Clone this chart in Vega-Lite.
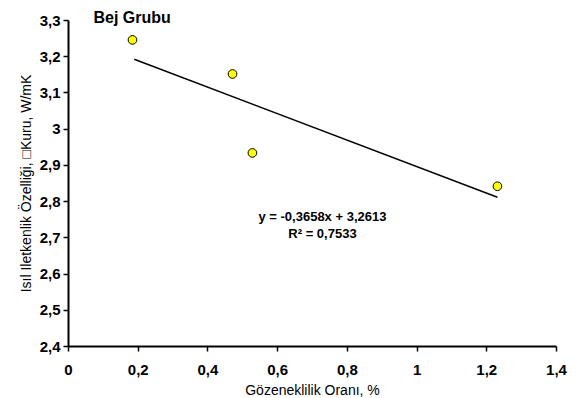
{
  "$schema": "https://vega.github.io/schema/vega-lite/v6.json",
  "width": 488,
  "height": 326,
  "autosize": {"type": "none"},
  "padding": {"left": 68, "top": 20, "right": 29, "bottom": 52},
  "background": "white",
  "config": {
    "view": {"stroke": null},
    "font": "Liberation Sans",
    "axis": {
      "grid": false,
      "domainColor": "black",
      "domainWidth": 2,
      "tickColor": "black",
      "tickWidth": 1.5,
      "tickSize": 5,
      "labelFont": "Liberation Sans",
      "labelFontWeight": "bold",
      "labelFontSize": 15,
      "labelColor": "black",
      "titleFont": "Liberation Sans",
      "titleFontWeight": "normal",
      "titleFontSize": 14,
      "titleColor": "black"
    }
  },
  "datasets": {
    "pts": [
      {"x": 0.185, "y": 3.245},
      {"x": 0.472, "y": 3.151},
      {"x": 0.529, "y": 2.933},
      {"x": 1.232, "y": 2.841}
    ],
    "trend": [
      {"x": 0.19, "y": 3.1918},
      {"x": 1.232, "y": 2.8106}
    ],
    "notes": [
      {"x": 0.73, "y": 2.755, "t": "y = -0,3658x + 3,2613"},
      {"x": 0.73, "y": 2.709, "t": "R² = 0,7533"}
    ],
    "ttl": [
      {"x": 0.073, "y": 3.306, "t": "Bej Grubu"}
    ]
  },
  "encoding": {
    "x": {
      "field": "x", "type": "quantitative",
      "scale": {"domain": [0, 1.4], "nice": false},
      "axis": {
        "values": [0, 0.2, 0.4, 0.6, 0.8, 1, 1.2, 1.4],
        "labelExpr": "replace(format(datum.value, '.1~f'), '.', ',')",
        "labelOverlap": false,
        "labelFlush": false,
        "title": "Gözeneklilik Oranı, %",
        "labelPadding": 11,
        "titlePadding": 6
      }
    },
    "y": {
      "field": "y", "type": "quantitative",
      "scale": {"domain": [2.4, 3.3], "nice": false, "zero": false},
      "axis": {
        "values": [2.4, 2.5, 2.6, 2.7, 2.8, 2.9, 3.0, 3.1, 3.2, 3.3],
        "tickCount": 10,
        "labelExpr": "replace(format(datum.value, '.1~f'), '.', ',')",
        "labelOverlap": false,
        "labelFlush": false,
        "labelBound": false,
        "title": "Isıl Iletkenlik Özelliği,  □Kuru, W/mK",
        "labelPadding": 3,
        "titlePadding": 6
      }
    }
  },
  "layer": [
    {
      "data": {"name": "trend"},
      "mark": {"type": "line", "color": "black", "strokeWidth": 1.5}
    },
    {
      "data": {"name": "pts"},
      "mark": {"type": "point", "filled": true, "fill": "#FFFF00", "stroke": "black", "strokeWidth": 1, "size": 75, "opacity": 1}
    },
    {
      "data": {"name": "notes"},
      "mark": {"type": "text", "font": "Liberation Sans", "fontSize": 13, "fontWeight": "bold", "color": "black", "align": "center", "baseline": "middle"},
      "encoding": {"text": {"field": "t"}}
    },
    {
      "data": {"name": "ttl"},
      "mark": {"type": "text", "font": "Liberation Sans", "fontSize": 16, "fontWeight": "bold", "color": "black", "align": "left", "baseline": "middle", "clip": false},
      "encoding": {"text": {"field": "t"}}
    }
  ]
}
